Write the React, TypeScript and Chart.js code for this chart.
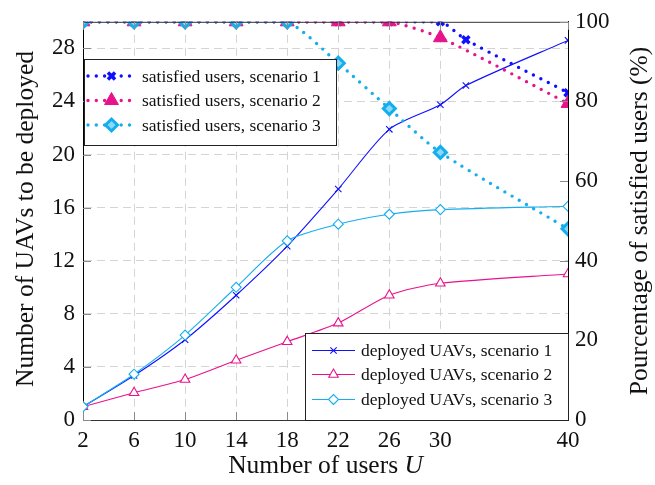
import React, { useEffect, useRef } from 'react';
import { Chart, registerables } from 'chart.js';
import { drawPoint } from 'chart.js/helpers';

Chart.register(...registerables);

// ---------- data ----------
const usersAll = [2, 6, 10, 14, 18, 22, 26, 30, 40];
const usersS1 = [2, 6, 10, 14, 18, 22, 26, 30, 32, 40];
const xTickValues = [2, 6, 10, 14, 18, 22, 26, 30, 40];
const leftTickValues = [0, 4, 8, 12, 16, 20, 24, 28];
const rightTickValues = [0, 20, 40, 60, 80, 100];

const deployedS1 = [1, 3.35, 6.05, 9.4, 13.1, 17.4, 21.9, 23.75, 25.2, 28.6];
const deployedS2 = [1, 2.05, 3.05, 4.5, 5.9, 7.3, 9.4, 10.3, 11.0];
const deployedS3 = [1, 3.45, 6.4, 10.0, 13.5, 14.75, 15.5, 15.85, 16.1];

const satisfiedS1 = [100, 100, 100, 100, 100, 100, 100, 100, 95.5, 82.2];
const satisfiedS2 = [100, 100, 100, 100, 100, 100, 100, 96, 79.5];
const satisfiedS3 = [100, 100, 100, 100, 100, 89.6, 78.2, 67.2, 48];

const satisfiedLabels = ['satisfied users, scenario 1', 'satisfied users, scenario 2', 'satisfied users, scenario 3'];
const deployedLabels = ['deployed UAVs, scenario 1', 'deployed UAVs, scenario 2', 'deployed UAVs, scenario 3'];

const xTitle = 'Number of users ';
const xTitleVar = 'U';
const leftTitle = 'Number of UAVs to be deployed';
const rightTitle = 'Pourcentage of satisfied users (%)';

const BLUE = '#1010ff';
const MAGENTA = '#e8128c';
const CYAN = '#14aeee';
const CYAN_LIGHT = '#8bd8f7';
const FONT = '"Liberation Serif", "Times New Roman", serif';

const pts = (xs: number[], ys: number[]) => xs.map((x, i) => ({ x, y: ys[i] }));

type Style = {
  color: string;
  dotted: boolean;
  lineWidth: number;
  pointStyle: any;
  radius: number;
  pointBorderWidth: number;
  fill: string;
};

const satStyles: Style[] = [
  { color: BLUE, dotted: true, lineWidth: 3.4, pointStyle: 'crossRot', radius: 5, pointBorderWidth: 3.5, fill: BLUE },
  { color: MAGENTA, dotted: true, lineWidth: 3.4, pointStyle: 'triangle', radius: 8, pointBorderWidth: 1, fill: MAGENTA },
  { color: CYAN, dotted: true, lineWidth: 3.4, pointStyle: 'rectRot', radius: 6, pointBorderWidth: 3, fill: CYAN_LIGHT },
];
const depStyles: Style[] = [
  { color: BLUE, dotted: false, lineWidth: 1.1, pointStyle: 'crossRot', radius: 4.5, pointBorderWidth: 1.1, fill: BLUE },
  { color: MAGENTA, dotted: false, lineWidth: 1.1, pointStyle: 'triangle', radius: 5.5, pointBorderWidth: 1.1, fill: '#ffffff' },
  { color: CYAN, dotted: false, lineWidth: 1.1, pointStyle: 'rectRot', radius: 5, pointBorderWidth: 1.1, fill: '#ffffff' },
];

function makeDataset(label: string, data: any[], s: Style, yAxisID: string, order: number) {
  return {
    label,
    data,
    yAxisID,
    order,
    borderColor: s.color,
    backgroundColor: s.color,
    borderWidth: s.lineWidth,
    borderDash: s.dotted ? [0, 8.3] : [],
    borderCapStyle: s.dotted ? 'round' : 'butt',
    tension: 0.25,
    pointStyle: s.pointStyle,
    pointRadius: s.radius,
    pointBorderWidth: s.pointBorderWidth,
    pointBorderColor: s.color,
    pointBackgroundColor: s.fill,
    fill: false,
  };
}

function drawLegend(ctx: CanvasRenderingContext2D, box: { x: number; y: number; w: number; h: number },
  rows: number[], lineX: [number, number], textX: number, labels: string[], styles: Style[]) {
  ctx.save();
  ctx.fillStyle = '#ffffff';
  ctx.fillRect(box.x, box.y, box.w, box.h);
  ctx.strokeStyle = '#222';
  ctx.lineWidth = 1;
  ctx.setLineDash([]);
  ctx.strokeRect(box.x + 0.5, box.y + 0.5, box.w, box.h);
  labels.forEach((label, i) => {
    const s = styles[i];
    const y = rows[i];
    ctx.save();
    ctx.strokeStyle = s.color;
    ctx.lineWidth = s.lineWidth;
    if (s.dotted) {
      ctx.setLineDash([0, 8.3]);
      ctx.lineCap = 'round';
    } else {
      ctx.setLineDash([]);
    }
    ctx.beginPath();
    ctx.moveTo(lineX[0], y);
    ctx.lineTo(lineX[1], y);
    ctx.stroke();
    ctx.setLineDash([]);
    ctx.lineCap = 'butt';
    ctx.fillStyle = s.fill;
    ctx.strokeStyle = s.color;
    ctx.lineWidth = s.pointBorderWidth;
    drawPoint(ctx, { pointStyle: s.pointStyle, rotation: 0, radius: s.radius, borderWidth: s.pointBorderWidth } as any,
      (lineX[0] + lineX[1]) / 2, y);
    ctx.restore();
    ctx.fillStyle = '#111';
    ctx.font = `17.5px ${FONT}`;
    ctx.textAlign = 'left';
    ctx.textBaseline = 'middle';
    ctx.fillText(label, textX, y + 1);
  });
  ctx.restore();
}

const overlayPlugin = {
  id: 'overlay',
  afterDraw(chart: any) {
    const { ctx, chartArea: ca, scales } = chart;
    ctx.save();
    ctx.setLineDash([]);
    // top frame line
    ctx.strokeStyle = '#333';
    ctx.lineWidth = 1;
    ctx.beginPath();
    ctx.moveTo(ca.left, ca.top + 0.5);
    ctx.lineTo(ca.right, ca.top + 0.5);
    ctx.stroke();

    // inward tick marks
    const T = 8;
    ctx.strokeStyle = '#8a8a8a';
    ctx.beginPath();
    xTickValues.forEach((v) => {
      const px = Math.round(scales.x.getPixelForValue(v)) + 0.5;
      ctx.moveTo(px, ca.bottom);
      ctx.lineTo(px, ca.bottom - T);
      ctx.moveTo(px, ca.top);
      ctx.lineTo(px, ca.top + T);
    });
    leftTickValues.forEach((v) => {
      const py = Math.round(scales.y.getPixelForValue(v)) + 0.5;
      ctx.moveTo(ca.left, py);
      ctx.lineTo(ca.left + T, py);
    });
    rightTickValues.forEach((v) => {
      const py = Math.round(scales.y1.getPixelForValue(v)) + 0.5;
      ctx.moveTo(ca.right, py);
      ctx.lineTo(ca.right - T, py);
    });
    ctx.stroke();

    // axis titles
    const TS = 25.5;
    ctx.fillStyle = '#111';
    ctx.textBaseline = 'middle';
    ctx.font = `${TS}px ${FONT}`;
    const w1 = ctx.measureText(xTitle).width;
    ctx.font = `italic ${TS}px ${FONT}`;
    const w2 = ctx.measureText(xTitleVar).width;
    const cx = (ca.left + ca.right) / 2;
    const startX = cx - (w1 + w2) / 2;
    ctx.textAlign = 'left';
    ctx.font = `${TS}px ${FONT}`;
    ctx.fillText(xTitle, startX, 466);
    ctx.font = `italic ${TS}px ${FONT}`;
    ctx.fillText(xTitleVar, startX + w1, 466);

    ctx.font = `${TS}px ${FONT}`;
    ctx.textAlign = 'center';
    ctx.save();
    ctx.translate(26, 219);
    ctx.rotate(-Math.PI / 2);
    ctx.fillText(leftTitle, 0, 0);
    ctx.restore();
    ctx.save();
    ctx.translate(640, 221);
    ctx.rotate(-Math.PI / 2);
    ctx.fillText(rightTitle, 0, 0);
    ctx.restore();
    ctx.restore();

    // legends
    drawLegend(ctx, { x: 84, y: 59, w: 252, h: 86 }, [76, 100.5, 125], [88, 135], 142, satisfiedLabels, satStyles);
    drawLegend(ctx, { x: 305, y: 333, w: 263, h: 87 }, [350.5, 374.5, 399.5], [312, 355], 361, deployedLabels, depStyles);
  },
};

export default function App() {
  const ref = useRef<HTMLCanvasElement | null>(null);
  useEffect(() => {
    document.body.style.margin = '0';
    const canvas = ref.current;
    if (!canvas) return;
    let chart: Chart | null = null;
    let cancelled = false;
    const build = () => {
      if (cancelled) return;
      Chart.defaults.font.family = FONT;
      const tickFont = { family: FONT, size: 23 };
      chart = new Chart(canvas, {
        type: 'line',
        data: {
          datasets: [
            makeDataset(satisfiedLabels[2], pts(usersAll, satisfiedS3), satStyles[2], 'y1', 0),
            makeDataset(satisfiedLabels[1], pts(usersAll, satisfiedS2), satStyles[1], 'y1', 1),
            makeDataset(satisfiedLabels[0], pts(usersS1, satisfiedS1), satStyles[0], 'y1', 2),
            makeDataset(deployedLabels[2], pts(usersAll, deployedS3), depStyles[2], 'y', 3),
            makeDataset(deployedLabels[1], pts(usersAll, deployedS2), depStyles[1], 'y', 4),
            makeDataset(deployedLabels[0], pts(usersS1, deployedS1), depStyles[0], 'y', 5),
          ] as any,
        },
        options: {
          responsive: false,
          animation: false,
          devicePixelRatio: 1,
          layout: { padding: { top: 17, left: 0, right: 0, bottom: 0 } },
          plugins: { legend: { display: false }, tooltip: { enabled: false } },
          scales: {
            x: {
              type: 'linear',
              min: 2,
              max: 40,
              afterBuildTicks: (s: any) => { s.ticks = xTickValues.map((v) => ({ value: v })); },
              afterFit: (s: any) => { s.height = 65; },
              ticks: { font: tickFont, color: '#111', padding: 7, maxRotation: 0, autoSkip: false },
              grid: { color: '#d4d4d4', drawTicks: false, lineWidth: 1 },
              border: { display: true, color: '#333', dash: [8, 5] },
            },
            y: {
              type: 'linear',
              position: 'left',
              min: 0,
              max: 30,
              afterBuildTicks: (s: any) => { s.ticks = leftTickValues.map((v) => ({ value: v })); },
              afterFit: (s: any) => { s.width = 83; },
              ticks: { font: tickFont, color: '#111', padding: 8 },
              grid: { color: '#d4d4d4', drawTicks: false, lineWidth: 1 },
              border: { display: true, color: '#000', dash: [8, 5] },
            },
            y1: {
              type: 'linear',
              position: 'right',
              min: 0,
              max: 100,
              afterBuildTicks: (s: any) => { s.ticks = rightTickValues.map((v) => ({ value: v })); },
              afterFit: (s: any) => { s.width = 87; },
              ticks: { font: tickFont, color: '#111', padding: 7 },
              grid: { drawOnChartArea: false, drawTicks: false },
              border: { display: true, color: '#000' },
            },
          },
        } as any,
        plugins: [overlayPlugin],
      });
    };
    const fontsApi: any = (document as any).fonts;
    if (fontsApi && fontsApi.load) {
      Promise.all([
        fontsApi.load('23px "Liberation Serif"'),
        fontsApi.load('italic 24px "Liberation Serif"'),
      ]).then(build, build);
    } else {
      build();
    }
    return () => {
      cancelled = true;
      if (chart) chart.destroy();
    };
  }, []);
  return <canvas ref={ref} width={655} height={485} style={{ display: 'block' }} />;
}
